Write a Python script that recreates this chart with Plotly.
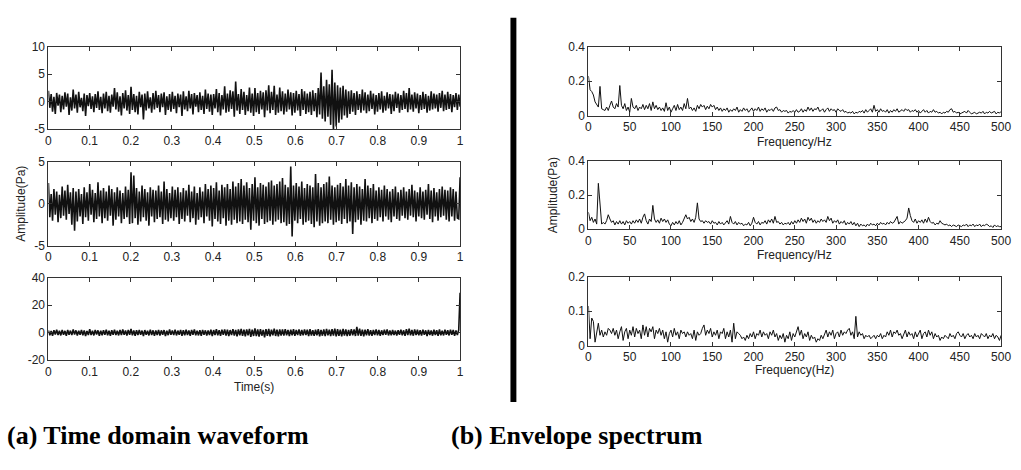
import numpy as np
import plotly.graph_objects as go

W, H = 1021, 470

# ---------------- data ----------------
time_ticks = [0, 0.1, 0.2, 0.3, 0.4, 0.5, 0.6, 0.7, 0.8, 0.9, 1]
time_tick_text = ["0", "0.1", "0.2", "0.3", "0.4", "0.5", "0.6", "0.7", "0.8", "0.9", "1"]
freq_ticks = [0, 50, 100, 150, 200, 250, 300, 350, 400, 450, 500]
freq_tick_text = ["0", "50", "100", "150", "200", "250", "300", "350", "400", "450", "500"]

# (a) time domain waveforms, samples evenly spread over 0..1 s
wave_a = [
    2.0,-1.1,1.4,-1.8,0.9,-2.2,1.6,-0.7,1.3,-1.9,
    1.1,-1.4,1.7,-0.9,1.5,-2.4,0.8,-1.6,2.2,-1.2,
    1.3,-2.0,1.8,-1.0,0.7,-1.7,1.5,-2.6,1.2,-0.8,
    1.6,-1.3,1.0,-1.9,1.4,-1.1,1.9,-1.5,0.9,-2.1,
    1.5,-1.2,1.8,-1.7,1.1,-2.0,1.3,-0.9,2.5,-1.4,
    1.7,-1.8,1.0,-2.5,1.6,-1.2,2.1,-1.6,1.2,-2.2,
    2.7,-1.5,1.4,-1.9,1.1,-2.3,1.8,-1.0,1.3,-3.2,
    1.5,-1.6,1.9,-1.2,0.8,-2.0,1.6,-1.4,2.0,-1.1,
    1.2,-1.9,1.5,-1.0,1.7,-2.4,1.0,-1.5,1.4,-1.8,
    1.8,-1.3,1.1,-2.1,1.5,-1.0,1.3,-2.6,1.9,-1.4,
    1.0,-1.7,2.0,-1.2,1.4,-2.3,1.6,-0.9,1.2,-1.9,
    1.7,-1.5,1.1,-2.2,2.2,-1.3,1.5,-1.8,1.3,-2.4,
    1.4,-1.2,2.3,-1.9,1.6,-2.5,1.2,-1.4,2.8,-2.0,
    1.5,-1.8,2.1,-1.3,1.9,-2.7,3.7,-1.6,1.4,-2.2,
    2.3,-1.5,1.8,-2.4,1.2,-1.7,2.6,-2.0,1.5,-2.6,
    2.5,-1.9,1.6,-2.2,2.0,-1.4,1.7,-2.8,2.1,-1.6,
    3.0,-2.1,1.8,-1.5,2.9,-2.4,1.3,-2.0,2.6,-1.7,
    1.9,-2.3,1.5,-1.8,2.2,-1.4,1.7,-2.5,1.6,-2.0,
    2.0,-1.6,1.4,-2.6,2.3,-1.5,1.9,-2.2,1.5,-1.9,
    1.8,-2.4,2.1,-1.7,1.6,-2.8,2.5,-2.3,5.3,-3.1,
    2.8,-3.6,4.0,-2.7,3.2,-4.2,5.8,-5.2,3.5,-4.5,
    3.0,-3.8,2.6,-3.2,2.9,-2.5,2.2,-2.9,1.9,-2.2,
    2.1,-1.8,1.6,-2.4,1.9,-1.5,1.4,-2.0,2.2,-1.6,
    1.7,-2.1,1.3,-1.7,2.0,-1.3,1.5,-2.3,1.2,-1.8,
    1.6,-1.4,1.9,-2.0,1.1,-1.6,1.7,-1.2,1.4,-2.2,
    1.3,-1.7,1.8,-1.1,1.5,-2.0,1.2,-1.5,2.0,-1.3,
    1.6,-1.9,2.5,-1.4,1.3,-1.8,1.7,-1.2,1.5,-2.1,
    1.2,-1.5,1.8,-1.3,1.4,-2.0,1.1,-1.6,1.9,-1.4,
    1.5,-1.2,1.3,-1.8,1.6,-1.1,2.0,-1.7,1.3,-1.5,
    1.8,-1.3,1.4,-1.9,1.2,-1.0,1.6,-1.5,1.3,-0.9,
]

wave_b = [
    2.5,-1.6,1.2,-2.0,1.8,-1.3,1.5,-2.2,1.1,-1.7,
    2.1,-1.4,1.6,-1.9,2.3,-1.2,1.4,-2.5,1.9,-3.2,
    1.5,-2.1,1.8,-1.5,1.2,-2.4,2.0,-1.6,1.4,-2.0,
    2.4,-1.3,1.7,-2.2,1.3,-1.8,2.6,-1.5,1.6,-2.3,
    1.9,-1.7,1.5,-2.0,2.2,-1.4,1.8,-2.6,1.4,-1.9,
    2.0,-1.5,1.6,-2.3,1.3,-1.8,2.1,-1.6,1.7,-2.4,
    3.8,-2.3,3.4,-1.7,1.9,-2.5,1.5,-2.1,2.2,-1.6,
    1.8,-2.0,1.4,-2.6,2.0,-1.5,1.7,-2.2,1.6,-1.8,
    2.2,-1.6,1.5,-2.4,2.7,-1.9,1.8,-2.1,1.3,-1.7,
    2.1,-2.0,1.7,-1.6,2.0,-2.4,1.4,-1.8,1.9,-2.1,
    1.6,-1.4,2.3,-2.2,1.5,-1.7,2.1,-2.5,1.3,-1.9,
    2.0,-1.6,1.5,-2.3,2.4,-1.5,1.8,-2.0,2.2,-2.7,
    1.9,-1.8,2.6,-2.1,1.6,-2.4,2.3,-1.7,2.0,-2.6,
    2.4,-2.0,1.8,-2.5,2.7,-1.9,2.1,-2.3,2.5,-2.1,
    3.0,-2.4,2.2,-1.9,2.6,-2.2,1.9,-3.1,2.4,-2.0,
    3.2,-2.3,2.0,-2.6,2.5,-1.8,2.3,-2.4,2.1,-2.2,
    2.6,-2.0,2.8,-2.5,2.2,-2.1,2.4,-1.9,2.7,-2.3,
    3.1,-2.2,2.3,-2.6,2.0,-2.4,4.5,-3.9,2.2,-2.0,
    2.5,-2.3,2.1,-1.8,2.7,-2.5,1.9,-2.2,2.4,-2.0,
    2.2,-2.4,2.0,-2.8,3.6,-2.1,2.5,-2.6,2.0,-2.3,
    2.4,-2.1,2.6,-2.3,3.3,-1.9,2.2,-2.5,2.0,-2.2,
    2.3,-2.0,2.5,-2.4,2.1,-1.8,3.0,-2.3,2.2,-2.1,
    2.6,-3.6,2.0,-2.2,2.4,-1.9,2.1,-2.5,1.8,-2.0,
    3.0,-2.1,2.2,-1.7,1.9,-2.3,2.4,-1.8,1.6,-2.0,
    2.0,-1.6,1.7,-2.1,2.2,-1.5,1.8,-1.9,1.5,-2.2,
    1.8,-1.5,2.1,-1.8,1.4,-2.0,1.7,-1.4,2.0,-1.7,
    1.5,-1.9,1.8,-1.4,2.3,-1.6,1.6,-2.1,1.4,-1.5,
    2.0,-1.7,1.5,-1.9,1.7,-1.3,2.4,-1.8,1.6,-2.2,
    1.9,-1.5,1.4,-2.0,1.8,-1.6,2.1,-1.4,1.7,-1.9,
    1.6,-2.1,2.0,-1.5,1.8,-2.0,1.5,-1.7,-1.8,3.2,
]

wave_c = [
    1.6,-1.9,1.2,-2.2,1.8,-1.3,2.1,-1.7,1.4,-2.0,
    1.9,-1.5,1.3,-2.3,2.0,-1.6,1.5,-1.8,2.4,-1.4,
    1.7,-2.1,1.4,-1.6,2.0,-1.9,1.6,-2.4,1.3,-1.7,
    2.6,-1.8,1.5,-2.0,1.9,-1.4,1.7,-2.2,1.5,-1.9,
    1.8,-1.6,2.1,-1.9,1.4,-2.3,1.8,-1.5,2.2,-1.8,
    1.5,-2.0,1.9,-1.7,2.3,-1.5,1.6,-2.1,1.9,-1.6,
    2.7,-1.9,1.6,-2.2,1.8,-1.7,2.0,-1.5,1.5,-2.4,
    1.9,-1.6,1.4,-2.0,2.2,-1.8,1.7,-2.3,1.6,-1.7,
    2.0,-2.1,1.7,-1.5,1.9,-2.5,1.4,-1.8,2.3,-1.6,
    1.6,-1.8,2.2,-2.0,1.5,-1.6,2.0,-2.2,1.8,-1.9,
    2.1,-1.7,1.6,-2.3,1.9,-1.5,2.4,-1.9,1.5,-2.0,
    1.8,-2.2,2.0,-1.6,1.7,-2.1,1.6,-1.8,2.2,-2.4,
    1.9,-1.7,2.5,-2.0,1.8,-2.3,2.1,-1.6,2.4,-2.2,
    2.2,-2.5,1.9,-1.8,2.6,-2.1,2.0,-2.7,2.3,-1.9,
    2.8,-2.3,2.1,-2.6,2.4,-2.0,2.7,-3.0,2.2,-2.4,
    3.1,-2.5,2.3,-2.8,2.6,-2.2,2.0,-3.4,2.5,-2.3,
    2.7,-2.6,2.2,-2.0,2.9,-2.4,2.1,-2.7,2.4,-2.1,
    2.3,-2.2,2.6,-1.9,2.0,-2.5,2.2,-2.0,2.5,-2.3,
    2.0,-1.8,2.4,-2.2,1.9,-2.0,2.3,-1.7,2.1,-2.4,
    2.6,-2.1,1.8,-2.3,2.2,-1.9,2.5,-2.6,2.0,-2.2,
    2.4,-2.5,2.8,-2.0,2.1,-2.4,2.6,-2.2,3.0,-2.7,
    2.5,-2.3,2.2,-2.6,2.7,-2.1,2.3,-2.5,2.0,-2.2,
    2.6,-2.0,2.3,-2.4,4.2,-2.2,2.9,-2.3,2.1,-2.6,
    2.2,-1.9,2.5,-2.1,1.8,-2.3,2.0,-1.7,2.4,-2.0,
    1.9,-2.2,1.7,-1.8,2.1,-1.6,2.3,-2.0,1.6,-1.9,
    2.0,-1.7,1.5,-2.1,1.8,-1.5,2.2,-1.9,1.7,-2.3,
    2.5,-1.8,2.9,-2.0,1.9,-2.2,2.4,-1.7,2.1,-2.0,
    1.8,-2.1,2.2,-1.6,1.7,-2.4,2.0,-1.8,1.6,-2.2,
    2.1,-1.7,1.8,-2.3,2.4,-1.9,1.5,-2.0,2.2,-1.6,
    1.7,-2.0,2.1,-1.5,1.9,-2.2,1.6,-1.8,2.0,29.0,
]

# (b) envelope spectra, 0..500 Hz in 2 Hz steps
spec_a = [
    .23,.15,.14,.12,.08,.06,.05,.17,.04,.035,
    .03,.05,.03,.06,.085,.05,.04,.07,.05,.175,
    .06,.04,.07,.03,.05,.02,.10,.05,.04,.06,
    .03,.05,.04,.065,.035,.06,.04,.07,.03,.08,
    .04,.06,.035,.05,.03,.045,.025,.075,.03,.05,
    .02,.04,.06,.03,.065,.035,.05,.03,.07,.04,
    .10,.04,.05,.03,.045,.025,.06,.04,.065,.05,
    .06,.035,.055,.04,.065,.05,.06,.035,.05,.03,
    .045,.025,.04,.03,.045,.02,.035,.025,.04,.03,
    .05,.02,.035,.025,.045,.03,.04,.02,.035,.045,
    .025,.04,.03,.05,.025,.04,.03,.045,.02,.035,
    .03,.04,.025,.045,.05,.03,.035,.02,.03,.025,
    .03,.015,.025,.02,.03,.02,.035,.02,.025,.04,
    .02,.035,.025,.05,.03,.045,.025,.04,.035,.05,
    .025,.03,.04,.02,.035,.045,.025,.04,.03,.035,
    .02,.04,.03,.025,.035,.02,.025,.015,.02,.015,
    .025,.01,.02,.015,.025,.02,.03,.015,.035,.02,
    .03,.04,.02,.06,.025,.035,.02,.04,.025,.03,
    .02,.035,.015,.03,.02,.035,.025,.04,.02,.03,
    .035,.025,.04,.03,.035,.02,.03,.025,.035,.02,
    .03,.015,.025,.035,.02,.03,.015,.025,.02,.035,
    .02,.025,.015,.02,.01,.02,.015,.025,.02,.035,
    .04,.02,.025,.015,.02,.01,.015,.02,.025,.015,
    .03,.02,.01,.015,.02,.01,.015,.02,.015,.025,
    .01,.02,.015,.025,.015,.02,.025,.01,.02,.015,
    .025,
]

spec_b = [
    .10,.05,.07,.04,.06,.03,.27,.16,.03,.04,
    .03,.05,.085,.06,.04,.05,.025,.045,.03,.05,
    .03,.045,.025,.05,.035,.045,.03,.05,.035,.055,
    .04,.06,.035,.07,.09,.05,.03,.06,.045,.14,
    .06,.04,.055,.035,.065,.045,.06,.04,.055,.03,
    .02,.04,.025,.045,.03,.05,.025,.04,.065,.085,
    .06,.07,.045,.06,.04,.07,.155,.06,.045,.05,
    .035,.05,.04,.045,.03,.05,.035,.04,.025,.045,
    .03,.04,.025,.035,.05,.03,.075,.04,.03,.045,
    .025,.04,.03,.035,.02,.03,.025,.04,.02,.035,
    .07,.04,.03,.045,.025,.04,.035,.05,.03,.055,
    .04,.06,.035,.075,.04,.045,.03,.04,.025,.035,
    .03,.04,.025,.045,.03,.05,.035,.055,.04,.065,
    .045,.06,.035,.07,.05,.065,.04,.055,.035,.05,
    .04,.06,.045,.055,.04,.075,.05,.065,.035,.05,
    .04,.055,.03,.045,.035,.05,.025,.04,.03,.045,
    .025,.04,.02,.035,.015,.03,.02,.025,.015,.03,
    .02,.035,.025,.03,.02,.035,.025,.04,.03,.035,
    .025,.04,.03,.045,.035,.04,.06,.075,.03,.045,
    .035,.04,.05,.065,.125,.08,.05,.04,.06,.035,
    .05,.04,.055,.035,.06,.04,.07,.045,.035,.04,
    .025,.035,.03,.05,.035,.03,.025,.03,.02,.025,
    .015,.025,.02,.015,.025,.02,.015,.025,.02,.03,
    .015,.025,.02,.03,.015,.025,.02,.03,.015,.025,
    .02,.03,.025,.015,.02,.01,.025,.015,.02,.015,
    .015,
]

spec_c = [
    .115,.02,.08,.07,.01,.045,.065,.03,.045,.025,
    .04,.03,.05,.045,.035,.05,.03,.045,.02,.04,
    .055,.015,.04,.05,.02,.045,.03,.055,.025,.05,
    .035,.045,.02,.06,.03,.055,.025,.05,.04,.055,
    .02,.045,.035,.05,.03,.045,.02,.04,.01,.035,
    .045,.025,.05,.03,.04,.02,.045,.035,.04,.025,
    .04,.03,.035,.02,.045,.015,.04,.03,.035,.05,
    .06,.03,.045,.035,.05,.025,.04,.03,.045,.02,
    .04,.035,.05,.02,.04,.025,.045,.01,.065,.02,
    .04,.035,.03,.02,.025,.015,.03,.02,.035,.025,
    .04,.02,.035,.03,.045,.025,.04,.03,.035,.02,
    .04,.03,.045,.025,.035,.015,.03,.02,.035,.01,
    .03,.02,.04,.015,.035,.025,.04,.055,.03,.045,
    .02,.035,.025,.04,.015,.03,.02,.025,.01,.02,
    .015,.03,.02,.035,.045,.025,.04,.03,.045,.02,
    .035,.04,.025,.045,.03,.04,.035,.045,.05,.03,
    .04,.02,.085,.025,.04,.03,.035,.02,.03,.025,
    .03,.02,.025,.03,.02,.03,.025,.035,.02,.03,
    .025,.04,.03,.045,.025,.04,.035,.045,.03,.035,
    .02,.035,.045,.025,.04,.03,.035,.02,.04,.025,
    .035,.045,.02,.035,.04,.025,.045,.03,.04,.02,
    .035,.025,.03,.015,.025,.02,.03,.025,.02,.035,
    .025,.03,.02,.035,.04,.03,.025,.035,.02,.03,
    .035,.025,.03,.02,.035,.025,.03,.02,.035,.03,
    .025,.035,.02,.03,.025,.035,.02,.03,.025,.015,
    .03,
]

# ---------------- layout (pixel boxes of the six axes) ----------------
def px_x(v):
    return v / W

def px_y(v):
    return 1 - v / H

panels = [
    # (series, left, right, top, bottom, xrange, yrange, yticks, yticktext, kind)
    (wave_a, 46, 463, 41, 126, [0, 1], [-5, 10], [-5, 0, 5, 10], ["-5", "0", "5", "10"], "t"),
    (wave_b, 46, 463, 160, 246, [0, 1], [-5, 5], [-5, 0, 5], ["-5", "0", "5"], "t"),
    (wave_c, 46, 463, 279, 364, [0, 1], [-20, 40], [-20, 0, 20, 40], ["-20", "0", "20", "40"], "t"),
    (spec_a, 593, 1011, 41, 112, [0, 500], [0, 0.4], [0, 0.2, 0.4], ["0", "0.2", "0.4"], "f"),
    (spec_b, 593, 1011, 159, 229, [0, 500], [0, 0.4], [0, 0.2, 0.4], ["0", "0.2", "0.4"], "f"),
    (spec_c, 593, 1011, 278, 349, [0, 500], [0, 0.2], [0, 0.1, 0.2], ["0", "0.1", "0.2"], "f"),
]

tick_font = dict(family="Liberation Sans, Arial, sans-serif", size=12, color="#222")
axis_common = dict(showline=True, linecolor="#333", linewidth=1, mirror="ticks",
                   ticks="inside", ticklen=4, tickcolor="#333", tickwidth=1,
                   showgrid=False, zeroline=False, tickfont=tick_font, fixedrange=True)

fig = go.Figure()
layout = {}
for i, (data, l, r, t, b, xr, yr, yt, ytt, kind) in enumerate(panels, start=1):
    sx = "" if i == 1 else str(i)
    if kind == "t":
        xs = np.linspace(0, 1, len(data))
        xt, xtt = time_ticks, time_tick_text
        lw = 1.6
    else:
        xs = np.linspace(0, 500, len(data))
        xt, xtt = freq_ticks, freq_tick_text
        lw = 1
    fig.add_trace(go.Scatter(x=xs, y=data, mode="lines",
                             line=dict(color="#111", width=lw),
                             xaxis="x" + sx, yaxis="y" + sx,
                             showlegend=False, hoverinfo="skip"))
    layout["xaxis" + sx] = dict(axis_common, domain=[px_x(l), px_x(r)], range=xr,
                                tickvals=xt, ticktext=xtt, anchor="y" + sx)
    layout["yaxis" + sx] = dict(axis_common, domain=[px_y(b), px_y(t)], range=yr,
                                tickvals=yt, ticktext=ytt, anchor="x" + sx)

label_font = dict(family="Liberation Sans, Arial, sans-serif", size=12, color="#222")
cap_font = dict(family="Liberation Serif, Times New Roman, serif", size=26, color="#000")

annotations = [
    dict(text="Amplitude(Pa)", x=px_x(18), y=px_y(203), textangle=-90, font=label_font),
    dict(text="Amplitude(Pa)", x=px_x(557), y=px_y(194), textangle=-90, font=label_font),
    dict(text="Time(s)", x=px_x(254.5), y=px_y(392), font=label_font),
    dict(text="Frequency/Hz", x=px_x(802), y=px_y(139), font=label_font),
    dict(text="Frequency/Hz", x=px_x(802), y=px_y(256), font=label_font),
    dict(text="Frequency(Hz)", x=px_x(802), y=px_y(374), font=label_font),
    dict(text="<b>(a) Time domain waveform</b>", x=px_x(2), y=px_y(442), xanchor="left", font=cap_font),
    dict(text="<b>(b) Envelope spectrum</b>", x=px_x(452), y=px_y(442), xanchor="left", font=cap_font),
]
for a in annotations:
    a.setdefault("xanchor", "center")
    a.update(xref="paper", yref="paper", yanchor="middle", showarrow=False)

shapes = [dict(type="rect", xref="paper", yref="paper",
               x0=px_x(514), x1=px_x(520), y0=px_y(407), y1=px_y(11),
               fillcolor="#000", line=dict(width=0))]

fig.update_layout(width=W, height=H, autosize=False,
                  margin=dict(l=0, r=0, t=0, b=0),
                  paper_bgcolor="white", plot_bgcolor="white",
                  annotations=annotations, shapes=shapes, **layout)

fig.write_html("out.html", config={"displayModeBar": False},
               post_script="document.body.style.margin='0';")
